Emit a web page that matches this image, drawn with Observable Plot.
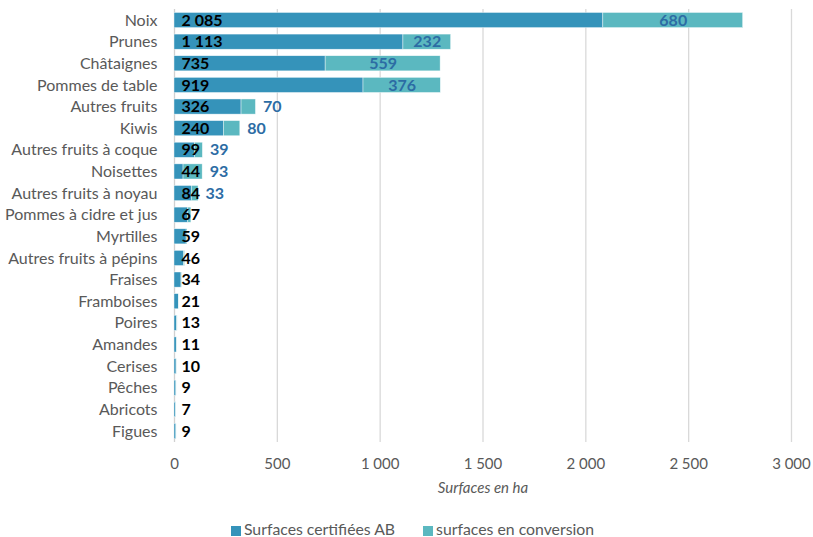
<!DOCTYPE html>
<html><head><meta charset="utf-8">
<script src="https://cdn.jsdelivr.net/npm/d3@7"></script>
<script src="https://cdn.jsdelivr.net/npm/@observablehq/plot@0.6"></script>
<style>
body{margin:0;background:#fff;font-family:Lato,"Open Sans",sans-serif;}
#legend{display:flex;justify-content:center;gap:28px;font-size:15.8px;color:#595959;margin-top:9px;padding-left:12px}
#legend span.sw{display:inline-block;width:10px;height:10px;margin-right:3px;vertical-align:-1px}
</style></head><body>
<div id="chart"></div>
<div id="legend"></div>
<script>
const categories = ["Noix","Prunes","Châtaignes","Pommes de table","Autres fruits","Kiwis","Autres fruits à coque","Noisettes","Autres fruits à noyau","Pommes à cidre et jus","Myrtilles","Autres fruits à pépins","Fraises","Framboises","Poires","Amandes","Cerises","Pêches","Abricots","Figues"];
const certified = [2085,1113,735,919,326,240,99,44,84,67,59,46,34,21,13,11,10,9,7,9];
const conversion = [680,232,559,376,70,80,39,93,33,15,4,5,2,2,2,1,1,1,1,1];
const showConversionLabel = [true,true,true,true,true,true,true,true,true,false,false,false,false,false,false,false,false,false,false,false];
const seriesNames = ["Surfaces certifiées AB","surfaces en conversion"];
const colors = ["#3593ba","#5bb8c0"];
const xTicks = [0,500,1000,1500,2000,2500,3000];
const xLabel = "Surfaces en ha";

const fmt = v => d3.format(",")(v).replace(/,/g, "\u202F");
const rows = [];
categories.forEach((c,i)=>{
  rows.push({cat:c, serie:seriesNames[0], v:certified[i]});
  rows.push({cat:c, serie:seriesNames[1], v:conversion[i]});
});
const convLabels = categories.map((c,i)=>({cat:c, cert:certified[i], conv:conversion[i], show:showConversionLabel[i]})).filter(d=>d.show);
const pxPerUnit = (813-174-22)/3000;
const inside = convLabels.filter(d=>d.conv*pxPerUnit > 40);
const outside = convLabels.filter(d=>d.conv*pxPerUnit <= 40);
const certLabels = categories.map((c,i)=>({cat:c, v:certified[i]}));

const chart = Plot.plot({
  width: 813, height: 510,
  marginLeft: 174, marginRight: 22, marginTop: 9, marginBottom: 68,
  style:{fontFamily:"Lato, 'Open Sans', sans-serif", fontSize:"14px", color:"#595959", background:"#fff"},
  x:{domain:[0,3000], ticks:xTicks, tickFormat:fmt, label:null, grid:false},
  y:{domain:categories, paddingInner:0.3, paddingOuter:0.16, round:false, label:null},
  color:{domain:seriesNames, range:colors},
  marks:[
    Plot.ruleX(xTicks.slice(1), {stroke:"#d9d9d9", strokeWidth:1.3}),
    Plot.ruleX([0], {stroke:"#d0d0d0", strokeWidth:1.3}),
    Plot.axisX({ticks:xTicks, tickFormat:fmt, tickSize:0, tickPadding:16, fontSize:15, fill:"#595959", label:null}),
    Plot.axisY({tickSize:0, tickPadding:17, fontSize:16, fill:"#595959", label:null}),
    Plot.barX(rows, Plot.stackX({x:"v", y:"cat", fill:"serie", order:seriesNames, stroke:"white", strokeWidth:0.6, strokeOpacity:0.7})),
    Plot.text(certLabels, {x:0, y:"cat", text:d=>fmt(d.v), textAnchor:"start", dx:7, fontWeight:"bold", fill:"#000", fontSize:16}),
    Plot.text(inside, {x:d=>d.cert+d.conv/2, y:"cat", text:d=>fmt(d.conv), fontWeight:"bold", fill:"#2c6ca4", fontSize:16}),
    Plot.text(outside, {x:d=>d.cert+d.conv, y:"cat", text:d=>fmt(d.conv), textAnchor:"start", dx:7, fontWeight:"bold", fill:"#2c6ca4", fontSize:16}),
    Plot.text([xLabel], {frameAnchor:"bottom", dy:50, fontStyle:"italic", fill:"#595959", fontSize:15})
  ]
});
document.getElementById("chart").appendChild(chart);
const lg = document.getElementById("legend");
seriesNames.forEach((s,i)=>{
  const d = document.createElement("div");
  d.innerHTML = `<span class="sw" style="background:${colors[i]}"></span>${s}`;
  lg.appendChild(d);
});
</script>
</body></html>
